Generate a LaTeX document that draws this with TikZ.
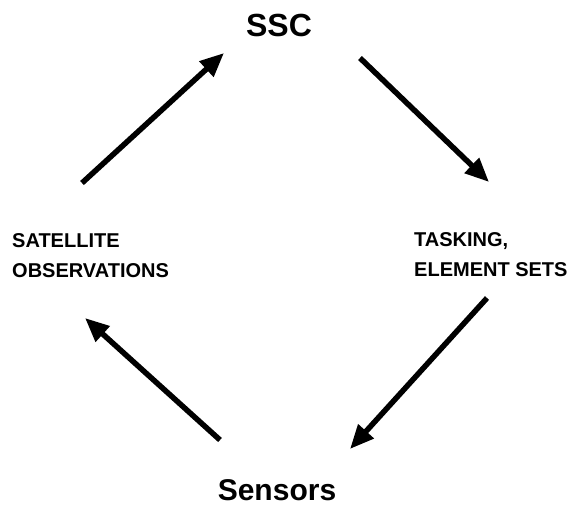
\documentclass[tikz,border=0pt]{standalone}
\usepackage{fontspec}
\setmainfont{Liberation Sans}
\usepackage{tikz}
\usetikzlibrary{arrows.meta,positioning}
\tikzset{
  hub/.style={inner sep=0pt,font=\bfseries\fontsize{32}{36}\selectfont},
  tag/.style={inner sep=0pt,align=left,font=\bfseries\fontsize{20}{30}\selectfont},
  flow/.style={-{Triangle[length=24pt,width=20pt]},line width=5.5pt,draw=black},
}
\begin{document}
\begin{tikzpicture}[x=1pt,y=-1pt]
  \useasboundingbox (0,0) rectangle (575,508);
  \node[hub] (ssc) at (279,25) {SSC};
  \node[hub,font=\bfseries\fontsize{30}{34}\selectfont] (sens) at (277,490) {Sensors};
  \node[tag,anchor=north west] (obs) at (12,233) {SATELLITE\\OBSERVATIONS};
  \node[tag,anchor=north west] (task) at (414,232) {TASKING,\\ELEMENT SETS};

  % arrow ends
  \coordinate (a1) at (82,183);  \coordinate (b1) at (224,53);
  \coordinate (a2) at (360,58);  \coordinate (b2) at (489,182);
  \coordinate (a3) at (487,298); \coordinate (b3) at (350,449);
  \coordinate (a4) at (220,440); \coordinate (b4) at (85,318);

  \draw[flow] (a1) -- (b1);
  \draw[flow] (a2) -- (b2);
  \draw[flow] (a3) -- (b3);
  \draw[flow] (a4) -- (b4);
\end{tikzpicture}
\end{document}
